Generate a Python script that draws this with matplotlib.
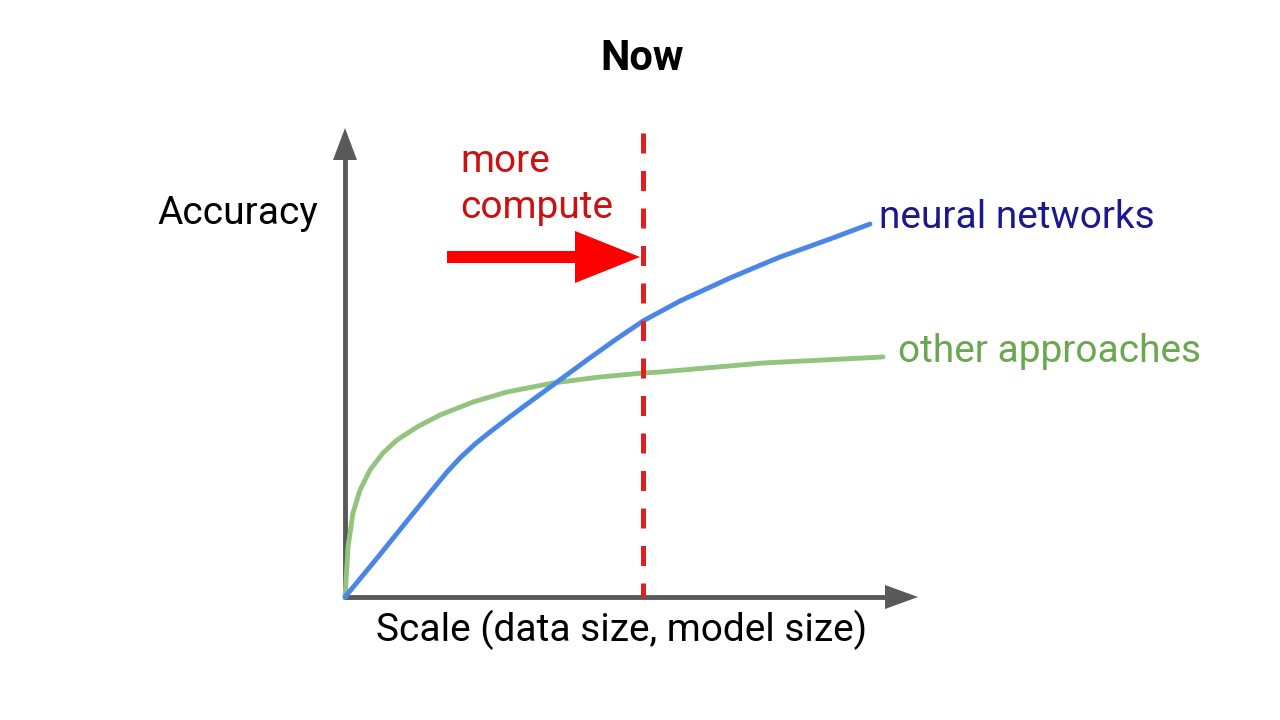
import numpy as np
import matplotlib.pyplot as plt
from matplotlib.patches import FancyArrow

plt.rcParams['font.family'] = ['Roboto', 'DejaVu Sans']

# curve points, in pixel-like units measured from the origin of the sketch
nn_x = [0, 33, 62, 88, 102, 115, 130, 145, 162, 178, 208, 242, 270, 298, 335, 385, 435, 485, 525]
nn_y = [0, 40, 76, 108, 125, 139, 153, 165, 178, 190, 212, 237, 257, 276, 296, 319, 340, 358, 373]
other_x = [0, 0.5, 3, 8, 15, 25, 38, 52, 72, 95, 128, 162, 208, 255, 298, 315, 418, 538]
other_y = [0, 7, 50, 84, 107, 127, 144, 157, 170, 182, 195, 205, 214, 220, 224, 225, 234, 240]
compute_x = 298

fig = plt.figure(figsize=(12.8, 7.2), dpi=100)
ax = fig.add_axes([0, 0, 1, 1])
ax.set_xlim(-345, 935)
ax.set_ylim(-123, 597)
ax.axis('off')

axis_col = '#595959'
# axes with arrow heads
ax.plot([0, 0], [0, 440], color=axis_col, lw=3.5, solid_capstyle='butt')
ax.fill([-12, 12, 0], [437, 437, 469], color=axis_col, lw=0)
ax.plot([-2, 545], [0, 0], color=axis_col, lw=3.5, solid_capstyle='butt')
ax.fill([540, 540, 573], [-12, 12, 0], color=axis_col, lw=0)

# curves
ax.plot(other_x, other_y, color='#93c47d', lw=3.5, solid_capstyle='round',
        solid_joinstyle='round')
ax.plot(nn_x, nn_y, color='#4a86e8', lw=3.5, solid_capstyle='round',
        solid_joinstyle='round')

# dashed compute line, drawn top-down so the dash pattern starts at the top
ax.plot([compute_x, compute_x], [464, 0], color='#e02020', lw=3.6,
        dashes=(4, 3.5))

# more compute arrow
ax.add_patch(FancyArrow(102, 340, 193, 0, width=12, head_width=52,
                        head_length=65, length_includes_head=True,
                        color='#ff0000', lw=0))

ax.text(297, 539, 'Now', ha='center', va='center', fontsize=30,
        fontweight='bold', color='black')
ax.text(-188, 384, 'Accuracy', ha='left', va='center', fontsize=28,
        color='black')
ax.text(277, -33, 'Scale (data size, model size)', ha='center', va='center',
        fontsize=28, color='black')
ax.text(115, 435, 'more', ha='left', va='center', fontsize=28,
        color='#cc1111')
ax.text(115, 389, 'compute', ha='left', va='center', fontsize=28,
        color='#cc1111')
ax.text(534, 380, 'neural networks', ha='left', va='center', fontsize=28,
        color='#1a1a8e')
ax.text(553, 245, 'other approaches', ha='left', va='center', fontsize=28,
        color='#6aa84f')

fig.savefig('out.png', dpi=100, facecolor='white')
